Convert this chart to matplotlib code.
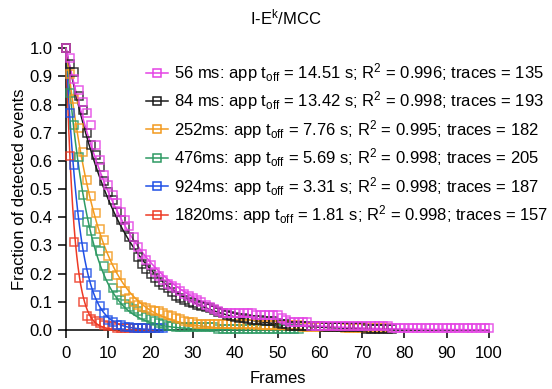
import numpy as np
import matplotlib
matplotlib.use("Agg")
import matplotlib.pyplot as plt

plt.rcParams["font.family"] = ["Liberation Sans", "DejaVu Sans"]
plt.rcParams["mathtext.fontset"] = "custom"
plt.rcParams["mathtext.rm"] = "Liberation Sans"
plt.rcParams["mathtext.it"] = "Liberation Sans"

# Survival fraction of detected events per frame, one list per frame interval
frac_56 = [1.0, 0.965, 0.89, 0.852, 0.81, 0.77, 0.726, 0.655, 0.604, 0.55,
           0.515, 0.48, 0.45, 0.42, 0.39, 0.37, 0.33, 0.296, 0.27, 0.25,
           0.23, 0.207, 0.193, 0.178, 0.163, 0.155, 0.148, 0.137, 0.126, 0.119,
           0.115, 0.107, 0.1, 0.089, 0.081, 0.074, 0.067, 0.059, 0.059, 0.059,
           0.059, 0.059, 0.059, 0.059, 0.059, 0.052, 0.052, 0.052, 0.052, 0.052,
           0.052, 0.044, 0.037, 0.030, 0.030, 0.030, 0.030, 0.030, 0.015, 0.015,
           0.015, 0.015, 0.015, 0.015, 0.015, 0.015, 0.015, 0.015, 0.015, 0.015,
           0.015, 0.015, 0.015, 0.015, 0.015, 0.015, 0.015, 0.007, 0.007, 0.007,
           0.007, 0.007, 0.007, 0.007, 0.007, 0.007, 0.007, 0.007, 0.007, 0.007,
           0.007, 0.007, 0.007, 0.007, 0.007, 0.007, 0.007, 0.007, 0.007, 0.007,
           0.007]
frac_84 = [1.0, 0.943, 0.915, 0.83, 0.78, 0.70, 0.657, 0.62, 0.58, 0.53,
           0.49, 0.46, 0.42, 0.39, 0.365, 0.33, 0.30, 0.26, 0.235, 0.215,
           0.2, 0.184, 0.17, 0.16, 0.148, 0.135, 0.122, 0.113, 0.106, 0.101,
           0.096, 0.09, 0.086, 0.083, 0.078, 0.07, 0.065, 0.06, 0.054, 0.05,
           0.047, 0.044, 0.041, 0.039, 0.036, 0.036, 0.036, 0.031, 0.031, 0.031,
           0.026, 0.021, 0.021, 0.0155, 0.0155, 0.0155, 0.0155, 0.0155, 0.0155, 0.0155,
           0.0155, 0.0104, 0.0104, 0.0104, 0.0104, 0.0104, 0.0104, 0.0104, 0.0104, 0.0104,
           0.0104, 0.0052, 0.0052, 0.0052, 0.0052, 0.0052, 0.0052, 0.0052]
frac_252 = [1.0, 0.91, 0.82, 0.716, 0.633, 0.533, 0.474, 0.415, 0.36, 0.32,
            0.261, 0.22, 0.196, 0.167, 0.137, 0.113, 0.1, 0.088, 0.082, 0.078,
            0.072, 0.068, 0.066, 0.06, 0.054, 0.048, 0.044, 0.038, 0.033, 0.027,
            0.027, 0.022, 0.022, 0.022, 0.022, 0.022, 0.022, 0.022, 0.022, 0.022,
            0.022, 0.022, 0.022, 0.022, 0.022, 0.022, 0.016, 0.016, 0.016, 0.016,
            0.016, 0.016, 0.016, 0.016, 0.016, 0.016, 0.011, 0.011, 0.011, 0.011,
            0.011, 0.011, 0.011, 0.011, 0.011, 0.011, 0.0055, 0.0055, 0.0055, 0.0055,
            0.0055, 0.0055, 0.0055, 0.0055, 0.0055, 0.0055, 0.0055]
frac_476 = [1.0, 0.84, 0.728, 0.613, 0.48, 0.385, 0.35, 0.314, 0.279, 0.226,
            0.19, 0.15, 0.125, 0.105, 0.093, 0.083, 0.075, 0.066, 0.054, 0.046,
            0.039, 0.032, 0.024, 0.02, 0.015, 0.015, 0.0098, 0.0098, 0.0098, 0.0098,
            0.0098, 0.0098, 0.0098, 0.0098, 0.0098, 0.0098, 0.0049, 0.0049, 0.0049, 0.0049,
            0.0049, 0.0049, 0.0049, 0.0049, 0.0049, 0.0049, 0.0049, 0.0049, 0.0049, 0.0049,
            0.0049, 0.0049, 0.0049, 0.0049, 0.0049, 0.0049]
frac_924 = [1.0, 0.77, 0.585, 0.409, 0.296, 0.202, 0.16, 0.125, 0.084, 0.06,
            0.037, 0.027, 0.016, 0.016, 0.011, 0.011, 0.0053, 0.0053, 0.0053, 0.0053,
            0.0053, 0.0053, 0.0053, 0.0053]
frac_1820 = [1.0, 0.616, 0.314, 0.184, 0.101, 0.048, 0.038, 0.032, 0.025, 0.019,
             0.013, 0.013, 0.0064, 0.0064, 0.0064, 0.0064, 0.0064, 0.0064, 0.0064, 0.0064,
             0.0064, 0.0064]

# Single-exponential fit decay constants, in frames
fit_tau = [14.0, 13.0, 7.5, 5.5, 3.2, 1.9]

labels = [
    r"56 ms: app t$_{\rm off}$ = 14.51 s; R$^{\rm 2}$ = 0.996; traces = 135",
    r"84 ms: app t$_{\rm off}$ = 13.42 s; R$^{\rm 2}$ = 0.998; traces = 193",
    r"252ms: app t$_{\rm off}$ = 7.76 s; R$^{\rm 2}$ = 0.995; traces = 182",
    r"476ms: app t$_{\rm off}$ = 5.69 s; R$^{\rm 2}$ = 0.998; traces = 205",
    r"924ms: app t$_{\rm off}$ = 3.31 s; R$^{\rm 2}$ = 0.998; traces = 187",
    r"1820ms: app t$_{\rm off}$ = 1.81 s; R$^{\rm 2}$ = 0.998; traces = 157",
]
series = [frac_56, frac_84, frac_252, frac_476, frac_924, frac_1820]
colors = ["#E442E4", "#1a1a1a", "#F39A1E", "#2E9A63", "#1F50E6", "#EE3A25"]

FS = 12

fig = plt.figure(figsize=(5.52, 3.89), dpi=100)
ax = fig.add_axes([0.1196, 0.1517, 0.886 - 0.1196, 0.8758 - 0.1517])

handles = []
order = list(range(len(series)))[::-1]
for i in order:
    y = np.asarray(series[i])
    x = np.arange(len(y))
    xf = np.linspace(0, len(y) - 1, 400)
    ax.plot(xf, np.exp(-xf / fit_tau[i]), color=colors[i], lw=1.1,
            zorder=3 + (5 - i) * 0.1, clip_on=False)
    ax.plot(x, y, ls="none", marker="s", ms=6.0, mfc="none", mec=colors[i],
            mew=1.1, alpha=0.85, zorder=4 + (5 - i) * 0.1, clip_on=False)

for i in range(len(series)):
    h, = ax.plot([], [], color=colors[i], lw=1.1, marker="s", ms=6.0,
                 mfc="none", mec=colors[i], mew=1.1)
    handles.append(h)

ax.legend(handles, labels, loc="upper left", bbox_to_anchor=(0.174, 0.978),
          frameon=False, fontsize=FS, handlelength=1.3, handletextpad=0.35,
          labelspacing=0.33, borderaxespad=0)

ax.set_xlim(0, 100)
ax.set_ylim(0, 1.0)
ax.set_xticks(np.arange(0, 101, 10))
ax.set_yticks(np.arange(0, 1.01, 0.1))
ax.set_yticklabels([f"{v:.1f}" for v in np.arange(0, 1.01, 0.1)])
for s in ["top", "right"]:
    ax.spines[s].set_visible(False)
for s in ["left", "bottom"]:
    ax.spines[s].set_linewidth(1.1)
ax.tick_params(direction="out", length=5.5, width=1.1, labelsize=FS)
ax.tick_params(axis="x", pad=6)
ax.tick_params(axis="y", pad=4)

ax.set_xlabel("Frames", fontsize=FS, labelpad=7)
ax.set_ylabel("Fraction of detected events", fontsize=FS, labelpad=2)
fig.text(0.518, 0.955, r"I-E$^{\rm k}$/MCC", ha="center", va="center", fontsize=FS)

fig.savefig("out.png", dpi=100)
